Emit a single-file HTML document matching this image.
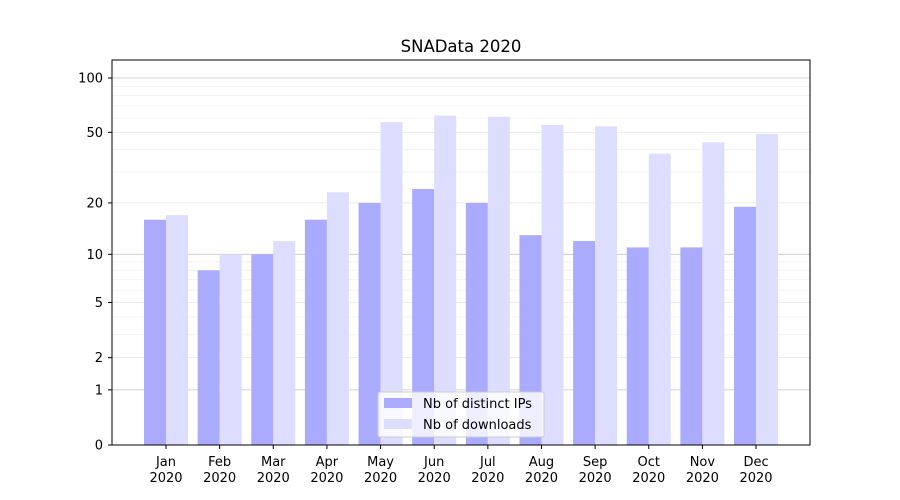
<!DOCTYPE html>
<html><head><meta charset="utf-8">
<style>
body{margin:0;background:#fff;}
svg{display:block;font-family:"DejaVu Sans","Liberation Sans",sans-serif;}
</style></head>
<body>
<svg id="chart" width="900" height="500" viewBox="0 0 900 500">
<rect width="900" height="500" fill="#fff"/>
<text x="461" y="52" font-size="16.5" text-anchor="middle">SNAData 2020</text>
<g id="grid"></g>
<g id="bars"></g>
<rect x="112" y="60" width="698" height="385" fill="none" stroke="#000" stroke-width="1"/>
<g id="axes"></g>
<g id="legend">
<rect x="378" y="392" width="166" height="45" fill="#fff" fill-opacity="0.8" stroke="#ccc" rx="2"/>
<rect x="384" y="398" width="28" height="10" fill="#aaaaff"/>
<text x="423" y="408" font-size="13">Nb of distinct IPs</text>
<rect x="384" y="419" width="28" height="10" fill="#ddddff"/>
<text x="423" y="429" font-size="13">Nb of downloads</text>
</g>
</svg>
<script>
const months = ["Jan","Feb","Mar","Apr","May","Jun","Jul","Aug","Sep","Oct","Nov","Dec"];
const ips = [16,8,10,16,20,24,20,13,12,11,11,19];
const downloads = [17,10,12,23,57,62,61,55,54,38,44,49];
const majorTicks = [0,1,2,5,10,20,50,100];
const darkTicks = [1,10,100];
const minorTicks = [3,4,6,7,8,9,30,40,60,70,80,90];

const NS="http://www.w3.org/2000/svg";
const y0=445, k=183.1;
function yScale(v){return y0 - Math.log10(v+1)*k;}
function xCenter(i){return 166 + i*53.64;}
const bw=22;
const grid=document.getElementById('grid'), bars=document.getElementById('bars'), axes=document.getElementById('axes');
function mk(tag,attrs,parent){const e=document.createElementNS(NS,tag);for(const a in attrs)e.setAttribute(a,attrs[a]);parent.appendChild(e);return e;}

minorTicks.forEach(v=>{
  const l=mk('line',{x1:112,x2:810,y1:yScale(v),y2:yScale(v),stroke:'#f0f0f0','stroke-width':0.8},grid);
  
  
});
majorTicks.forEach(v=>{
  const y=yScale(v);
  const col=darkTicks.includes(v)?'#c4c4c4':'#e6e6e6';
  const l=mk('line',{x1:112,x2:810,y1:y,y2:y,stroke:col,'stroke-width':0.8},grid);
  
  
  mk('line',{x1:108,x2:112,y1:y,y2:y,stroke:'#000'},axes);
  const t=mk('text',{x:103,y:y+4.5,'font-size':13,'text-anchor':'end'},axes);
  t.textContent=v;
  
  
});
months.forEach((m,i)=>{
  const c=xCenter(i);
  const b1=mk('rect',{x:c-bw,y:yScale(ips[i]),width:bw,height:y0-yScale(ips[i]),fill:'#aaaaff'},bars);
  
  
  const b2=mk('rect',{x:c,y:yScale(downloads[i]),width:bw,height:y0-yScale(downloads[i]),fill:'#ddddff'},bars);
  
  
  mk('line',{x1:c,x2:c,y1:445,y2:449,stroke:'#000'},axes);
  const t=mk('text',{x:c,y:466,'font-size':13,'text-anchor':'middle'},axes);
  
  
  const s1=mk('tspan',{x:c,dy:0},t); s1.textContent=m;
  const s2=mk('tspan',{x:c,dy:16},t); s2.textContent='2020';
});
</script>
</body></html>
